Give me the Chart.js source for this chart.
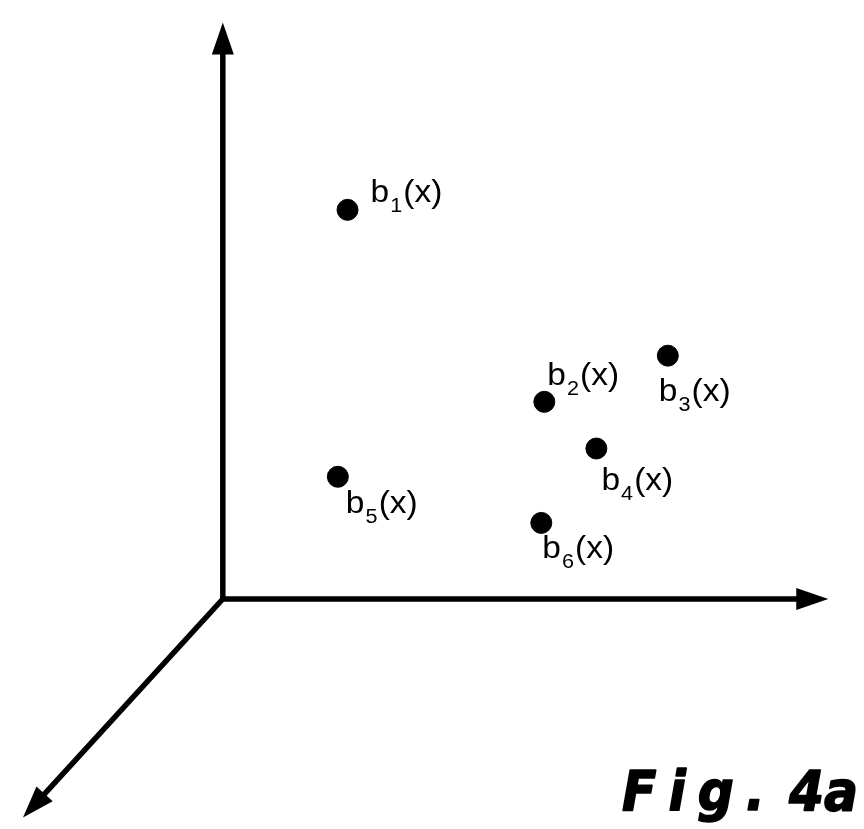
<!DOCTYPE html>
<html>
<head>
<meta charset="utf-8">
<script src="https://cdn.jsdelivr.net/npm/chart.js@4"></script>
<style>
  html, body { margin: 0; padding: 0; background: #fff; }
  .wrap { position: relative; width: 864px; height: 829px; }
</style>
</head>
<body>
<div class="wrap"><canvas id="fig"></canvas></div>
<script>
// point data (abstract units, origin of the axes at 0,0)
const pointNames = ['1', '2', '3', '4', '5', '6'];
const pointX = [2.06, 5.31, 7.35, 6.17, 1.90, 5.26];
const pointY = [6.75, 3.42, 4.22, 2.61, 2.12, 1.32];

// the three axes, each drawn from the origin to its end
const axisEndX = [0, 10, -3.30];
const axisEndY = [10, 0, -3.79];

// visible window of the scales
const xRange = [-3.49, 10.40];
const yRange = [-3.79, 10.19];

// where each label sits relative to its dot (px)
const labelDx = [23, 3, -9, 5, 8, 1];
const labelDy = [-8, -17, 45, 41, 36, 35];

const figWord = 'Fig.';
const figNum = '4a';

const axesPlugin = {
  id: 'axes3d',
  beforeDatasetsDraw(chart) {
    const { ctx, scales: { x, y } } = chart;
    const ox = x.getPixelForValue(0);
    const oy = y.getPixelForValue(0);
    ctx.save();
    ctx.strokeStyle = '#000';
    ctx.fillStyle = '#000';
    ctx.lineWidth = 5.5;
    ctx.lineCap = 'round';
    axisEndX.forEach((ex, i) => {
      const tx = x.getPixelForValue(ex);
      const ty = y.getPixelForValue(axisEndY[i]);
      const ang = Math.atan2(ty - oy, tx - ox);
      const len = 32, hw = 11;
      const bx = tx - len * Math.cos(ang);
      const by = ty - len * Math.sin(ang);
      ctx.beginPath();
      ctx.moveTo(ox, oy);
      ctx.lineTo(bx, by);
      ctx.stroke();
      ctx.beginPath();
      ctx.moveTo(tx, ty);
      ctx.lineTo(bx + hw * Math.sin(ang), by - hw * Math.cos(ang));
      ctx.lineTo(bx - hw * Math.sin(ang), by + hw * Math.cos(ang));
      ctx.closePath();
      ctx.fill();
    });
    ctx.restore();
  }
};

const labelPlugin = {
  id: 'pointLabels',
  afterDatasetsDraw(chart) {
    const { ctx } = chart;
    const meta = chart.getDatasetMeta(0);
    ctx.save();
    ctx.fillStyle = '#000';
    ctx.strokeStyle = '#000';
    ctx.textBaseline = 'alphabetic';
    ctx.textAlign = 'left';
    meta.data.forEach((pt, i) => {
      ctx.save();
      ctx.translate(pt.x + labelDx[i], pt.y + labelDy[i]);
      ctx.scale(1.08, 1);
      let cx = 0;
      ctx.font = '31px "Liberation Sans", Arial, sans-serif';
      ctx.fillText('b', cx, 0);
      cx += ctx.measureText('b').width + 1;
      ctx.font = '20px "Liberation Sans", Arial, sans-serif';
      ctx.fillText(pointNames[i], cx, 10);
      cx += ctx.measureText(pointNames[i]).width + 1;
      ctx.font = '31px "Liberation Sans", Arial, sans-serif';
      ctx.fillText('(x)', cx, 0);
      ctx.restore();
    });

    // figure caption, bottom right: spaced "Fig." then tight "4a"
    ctx.font = 'italic bold 56px "DejaVu Sans Condensed", "Liberation Sans Narrow", "DejaVu Sans", sans-serif';
    ctx.fontStretch = 'condensed';
    ctx.lineWidth = 1.5;
    ctx.lineJoin = 'round';
    ctx.letterSpacing = '0px';
    const numW = ctx.measureText(figNum).width;
    const numX = 858 - numW;
    ctx.fillText(figNum, numX, 810);
    ctx.strokeText(figNum, numX, 810);
    ctx.letterSpacing = '12px';
    const wordW = ctx.measureText(figWord).width;
    const wordX = numX - 12 - wordW;
    ctx.fillText(figWord, wordX, 810);
    ctx.strokeText(figWord, wordX, 810);
    ctx.restore();
  }
};

new Chart(document.getElementById('fig').getContext('2d'), {
  type: 'scatter',
  data: {
    datasets: [{
      data: pointX.map((v, i) => ({ x: v, y: pointY[i] })),
      backgroundColor: '#000',
      borderColor: '#000',
      pointRadius: 10.5,
      pointHoverRadius: 10.5
    }]
  },
  options: {
    responsive: true,
    maintainAspectRatio: false,
    animation: false,
    clip: false,
    layout: { padding: 0 },
    scales: {
      x: { type: 'linear', min: xRange[0], max: xRange[1], display: false },
      y: { type: 'linear', min: yRange[0], max: yRange[1], display: false }
    },
    plugins: { legend: { display: false }, tooltip: { enabled: false } }
  },
  plugins: [axesPlugin, labelPlugin]
});
</script>
</body>
</html>
